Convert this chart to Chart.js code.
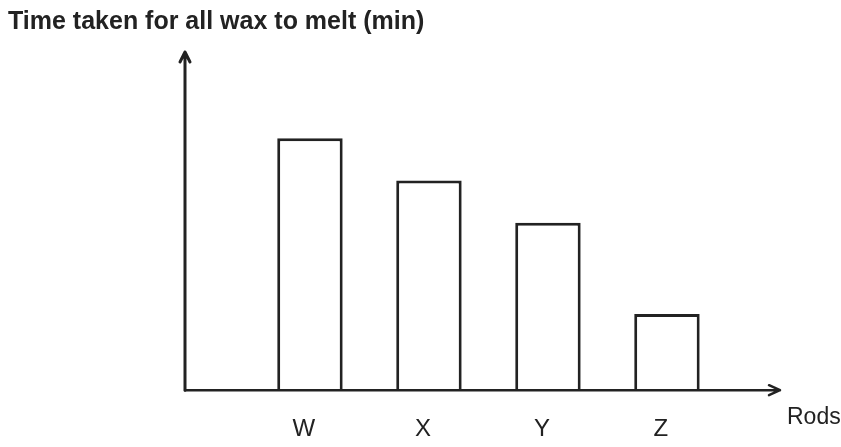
<!DOCTYPE html>
<html>
<head>
<meta charset="utf-8">
<title>Wax melting time</title>
<script src="https://cdn.jsdelivr.net/npm/chart.js@4"></script>
<style>
  html, body { margin: 0; padding: 0; background: #fff; }
  #wrap { width: 841px; height: 447px; position: relative; }
</style>
</head>
<body>
<div id="wrap"><canvas id="wax-chart"></canvas></div>
<script>
const rods = ["W", "X", "Y", "Z"];
const meltTimes = [7.45, 6.2, 4.95, 2.25];
const yAxisTitle = "Time taken for all wax to melt (min)";
const xAxisTitle = "Rods";

const ink = "#222";

// hand-drawn style axes with arrow heads, plus the two axis captions
const axesPlugin = {
  id: "axesWithArrows",
  afterDatasetsDraw(chart) {
    const { ctx, chartArea } = chart;
    const { left, right, top, bottom } = chartArea;
    ctx.save();
    ctx.strokeStyle = ink;
    ctx.lineWidth = 3;
    ctx.lineCap = "round";
    ctx.lineJoin = "round";

    ctx.beginPath();
    ctx.moveTo(left, bottom);
    ctx.lineTo(left, top);
    ctx.moveTo(left - 5, top + 10);
    ctx.lineTo(left, top);
    ctx.lineTo(left + 5, top + 10);
    ctx.stroke();

    ctx.lineWidth = 2.5;
    ctx.beginPath();
    ctx.moveTo(left, bottom);
    ctx.lineTo(right, bottom);
    ctx.moveTo(right - 11, bottom - 5);
    ctx.lineTo(right, bottom);
    ctx.lineTo(right - 11, bottom + 5);
    ctx.stroke();

    ctx.fillStyle = ink;
    ctx.textBaseline = "alphabetic";
    ctx.font = "bold 25px 'Liberation Sans', Arial, sans-serif";
    ctx.fillText(yAxisTitle, 8, 29);
    ctx.font = "23px 'Liberation Sans', Arial, sans-serif";
    ctx.fillText(xAxisTitle, right + 7, bottom + 34);
    ctx.restore();
  }
};

document.addEventListener("DOMContentLoaded", () => {
  const ctx = document.getElementById("wax-chart").getContext("2d");
  new Chart(ctx, {
    type: "bar",
    data: {
      datasets: [{
        label: yAxisTitle,
        data: rods.map((r, i) => ({ x: i + 1, y: meltTimes[i] })),
        backgroundColor: "#fff",
        borderColor: ink,
        borderWidth: 3,
        categoryPercentage: 1,
        barPercentage: 0.55
      }]
    },
    options: {
      responsive: true,
      maintainAspectRatio: false,
      animation: false,
      layout: { padding: { top: 52, left: 185, right: 61, bottom: -22 } },
      plugins: {
        legend: { display: false },
        tooltip: { enabled: false }
      },
      scales: {
        x: {
          type: "linear",
          offset: false,
          min: -0.05,
          max: 4.95,
          grid: { display: false, drawTicks: false },
          border: { display: false },
          afterBuildTicks: scale => {
            scale.ticks = rods.map((r, i) => ({ value: i + 1 }));
          },
          ticks: {
            padding: 25,
            labelOffset: -6,
            color: ink,
            font: { family: "'Liberation Sans', Arial, sans-serif", size: 24 },
            callback: value => rods[value - 1] || ""
          }
        },
        y: {
          display: false,
          min: 0,
          max: 10
        }
      }
    },
    plugins: [axesPlugin]
  });
});
</script>
</body>
</html>
